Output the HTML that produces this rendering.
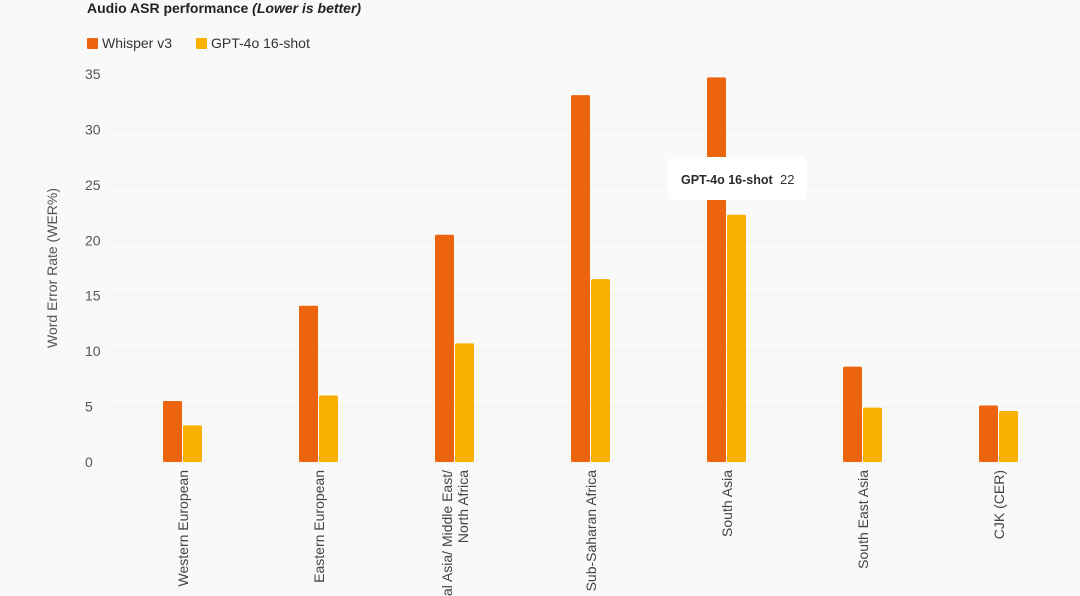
<!DOCTYPE html>
<html><head><meta charset="utf-8"><style>
html,body{margin:0;width:1080px;height:596px;overflow:hidden;background:#f9f9f9;font-family:"Liberation Sans",sans-serif;}
svg{display:block}
</style></head><body>
<svg id="chart" width="1080" height="596" viewBox="0 0 1080 596">
<rect width="1080" height="596" fill="#f9f9f9"/>
<text x="87" y="13" font-size="14" font-weight="bold" fill="#222">Audio ASR performance <tspan font-style="italic">(Lower is better)</tspan></text>
<g>
<rect x="87" y="38" width="11" height="11" rx="1" fill="#ec650e"/>
<text x="102" y="48" font-size="14" fill="#333">Whisper v3</text>
<rect x="196" y="38" width="11" height="11" rx="1" fill="#f9b100"/>
<text x="211" y="48" font-size="14" fill="#333">GPT-4o 16-shot</text>
</g>
<text transform="translate(57,268) rotate(-90)" text-anchor="middle" font-size="14" fill="#555">Word Error Rate (WER%)</text>
<g id="grid"></g><g id="bars"></g><g id="xlabels"></g>
<g>
<rect x="668" y="157" width="139" height="43" rx="6" fill="#fff"/>
<text x="681" y="184" font-size="12.5" font-weight="bold" fill="#2a2a2a">GPT-4o 16-shot</text>
<text x="780" y="184" font-size="13" fill="#333">22</text>
</g>
</svg>
<script>
const categories=[["Western European"],["Eastern European"],["Central Asia/ Middle East/","North Africa"],["Sub-Saharan Africa"],["South Asia"],["South East Asia"],["CJK (CER)"]];
const whisper=[5.5,14.1,20.5,33.1,34.7,8.6,5.1];
const gpt4o=[3.3,6.0,10.7,16.5,22.3,4.9,4.6];
const yTicks=[0,5,10,15,20,25,30,35];
const NS="http://www.w3.org/2000/svg";
const y=v=>462-v*(388/35);
const x=i=>183+i*136;
function mk(t,a,p){const e=document.createElementNS(NS,t);for(const k in a)e.setAttribute(k,a[k]);p.appendChild(e);return e;}
const grid=document.getElementById('grid');
yTicks.forEach(t=>{
 const l=mk('line',{x1:115,x2:1080,y1:y(t),y2:y(t),stroke:'#ebebeb','stroke-dasharray':'4,4'},grid);
 
 
 const tx=mk('text',{x:85,y:y(t)+5,'font-size':14,fill:'#555'},grid);
 
 
 tx.textContent=t;
});
const bars=document.getElementById('bars');
categories.forEach((c,i)=>{
 const b1=mk('rect',{x:x(i)-20,y:y(whisper[i]),width:19,height:462-y(whisper[i]),fill:'#ec650e',rx:1.5},bars);
 
 
 const b2=mk('rect',{x:x(i),y:y(gpt4o[i]),width:19,height:462-y(gpt4o[i]),fill:'#f9b100',rx:1.5},bars);
 
 
 const n=c.length;
 c.forEach((line,j)=>{
  const lx=x(i)+5+(j-(n-1)/2)*16;
  const t=mk('text',{transform:`translate(${lx},470) rotate(-90)`,'text-anchor':'end','font-size':14,fill:'#444'},document.getElementById('xlabels'));
  
  
  t.textContent=line;
 });
});
</script>
</body></html>
